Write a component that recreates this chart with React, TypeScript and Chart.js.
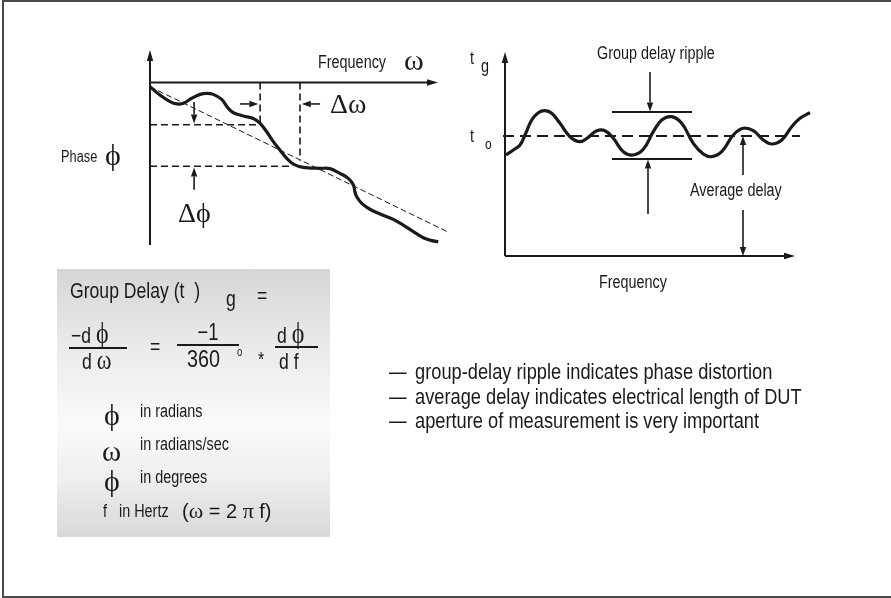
import React, { useEffect, useRef } from "react";
import { Chart, registerables } from "chart.js";
Chart.register(...registerables);

// ---------- Left plot: phase vs frequency ----------
const phaseFreq = [0, 0.33, 0.67, 0.89, 1.11, 1.39, 1.67, 1.89, 2.11, 2.39, 2.61, 2.78, 3.11, 3.44, 3.67, 3.89, 4.11, 4.33, 4.56, 4.78, 5.11, 5.67, 6.0, 6.33, 6.61, 6.78, 6.83, 6.89, 7.06, 7.33, 7.67, 8.11, 8.44, 8.78, 9.11, 9.39, 9.61];
const phaseVal = [-0.26, -0.77, -1.18, -1.32, -1.28, -0.97, -0.73, -0.67, -0.73, -1.04, -1.59, -1.86, -2.06, -2.21, -2.51, -3.03, -3.64, -4.15, -4.67, -5.02, -5.22, -5.28, -5.3, -5.59, -5.9, -6.31, -6.72, -7.03, -7.44, -7.8, -8.09, -8.42, -8.77, -9.18, -9.55, -9.73, -9.79];
const linearFreq = [0, 9.93];
const linearPhase = [-0.26, -9.2];
const phaseLevels = [-2.6, -5.15]; // Δφ bounds
const apertureFreq = [3.67, 5.0]; // Δω bounds
const apertureDrop = [-2.5, -4.8];
const phaseAxisRange = [-10, 2];
const freqAxisRange = [-1, 10];
const phaseAxisEnd = 9.6;

// ---------- Right plot: group delay vs frequency ----------
const delayFreq = [0.1, 0.83, 1.5, 2.0, 2.67, 3.33, 4.0, 4.67, 5.5, 6.5, 7.5, 8.33, 9.17, 10.0, 10.83, 11.83, 12.83, 13.83, 14.83, 15.67, 16.67, 17.67, 18.83, 19.83, 20.67, 21.67, 22.83, 23.83, 24.83, 25.83, 26.67, 27.67, 28.67, 29.5, 30.5];
const delayVal = [10.1, 10.6, 11.1, 12.1, 13.6, 14.33, 14.53, 14.27, 13.27, 11.93, 11.43, 11.87, 12.53, 12.53, 11.77, 10.43, 10.1, 10.67, 12.43, 13.6, 13.93, 13.27, 11.27, 10.2, 9.93, 10.43, 12.1, 12.77, 12.53, 11.6, 11.2, 11.6, 12.93, 13.77, 14.33];
const averageDelay = 12.0;
const averageSpan = [-0.2, 29.5];
const rippleLevels = [14.4, 9.7];
const rippleSpan = [10.7, 18.7];
const delayAxisRange = [0, 20.4];
const delayFreqRange = [-1, 31];
const delayFreqAxisEnd = 29;
const avgDelayFreq = 23.8;

// ---------- Text ----------
const bulletLines = [
  "group-delay ripple indicates phase distortion",
  "average delay indicates electrical length of DUT",
  "aperture of measurement is very important",
];
const PHI = "\u03D5";
const OMEGA = "\u03C9";
const PI = "\u03C0";
const unitLines = [
  { sym: PHI, text: "in radians" },
  { sym: OMEGA, text: "in radians/sec" },
  { sym: PHI, text: "in degrees" },
];

const SANS = '"Liberation Sans", Arimo, Arial, sans-serif';
const SERIF = '"Liberation Serif", "DejaVu Serif", serif';
const INK = "#1a1a1a";
const NARROW = 0.8;

type Arrow = [number, number, number, number];

function drawArrow(ctx: CanvasRenderingContext2D, x1: number, y1: number, x2: number, y2: number, w = 1.6, head = 9, half = 3.2) {
  const ang = Math.atan2(y2 - y1, x2 - x1);
  const bx = x2 - head * Math.cos(ang);
  const by = y2 - head * Math.sin(ang);
  ctx.save();
  ctx.strokeStyle = INK;
  ctx.fillStyle = INK;
  ctx.lineWidth = w;
  ctx.setLineDash([]);
  ctx.beginPath();
  ctx.moveTo(x1, y1);
  ctx.lineTo(bx, by);
  ctx.stroke();
  ctx.beginPath();
  ctx.moveTo(x2, y2);
  ctx.lineTo(bx - half * Math.sin(ang), by + half * Math.cos(ang));
  ctx.lineTo(bx + half * Math.sin(ang), by - half * Math.cos(ang));
  ctx.closePath();
  ctx.fill();
  ctx.restore();
}

function decorPlugin(id: string, axisX: [number, number, number], axisY: [number, number, number], arrows: Arrow[]) {
  return {
    id,
    afterDatasetsDraw(chart: any) {
      const { ctx, scales } = chart;
      const X = (v: number) => scales.x.getPixelForValue(v);
      const Y = (v: number) => scales.y.getPixelForValue(v);
      drawArrow(ctx, X(axisY[0]), Y(axisY[1]), X(axisY[0]), Y(axisY[2]), 2, 11, 3.2);
      drawArrow(ctx, X(axisX[1]), Y(axisX[0]), X(axisX[2]), Y(axisX[0]), 2, 11, 3.2);
      arrows.forEach((a) => drawArrow(ctx, X(a[0]), Y(a[1]), X(a[2]), Y(a[3])));
    },
  };
}

const pts = (xs: number[], ys: number[]) => xs.map((x, i) => ({ x, y: ys[i] }));

function lineDs(data: any[], width: number, dash: number[] = [], tension = 0) {
  return { data, showLine: true, borderColor: INK, borderWidth: width, borderDash: dash, pointRadius: 0, tension, clip: false as any };
}

function Label({ x, y, s, f = SANS, c = false, k, children, style }: any) {
  const sx = k !== undefined ? k : f === SANS ? NARROW : 1;
  return (
    <div
      style={{
        position: "absolute",
        left: x,
        top: y,
        fontSize: s,
        fontFamily: f,
        lineHeight: 1,
        whiteSpace: "pre",
        color: INK,
        transformOrigin: c ? "center center" : "left center",
        transform: (c ? "translate(-50%,-50%)" : "translate(0,-50%)") + ` scaleX(${sx})`,
        ...style,
      }}
    >
      {children}
    </div>
  );
}

const G = ({ children, s }: any) => <span style={{ fontFamily: SERIF, fontSize: s }}>{children}</span>;

export default function App() {
  const leftRef = useRef<HTMLCanvasElement>(null);
  const rightRef = useRef<HTMLCanvasElement>(null);

  useEffect(() => {
    document.body.style.margin = "0";
    const W = 891;
    const H = 598;
    const left = new Chart(leftRef.current!, {
      type: "scatter",
      data: {
        datasets: [
          lineDs(pts(phaseFreq, phaseVal), 3.2, [], 0.35),
          lineDs(pts(linearFreq, linearPhase), 1, [6, 3]),
          lineDs(pts([0, apertureFreq[0]], [phaseLevels[0], phaseLevels[0]]), 1.6, [7, 4]),
          lineDs(pts([0, (apertureFreq[0] + apertureFreq[1]) / 2 + 0.3], [phaseLevels[1], phaseLevels[1]]), 1.6, [7, 4]),
          lineDs(pts([apertureFreq[0], apertureFreq[0]], [0, apertureDrop[0]]), 1.6, [7, 4]),
          lineDs(pts([apertureFreq[1], apertureFreq[1]], [0, apertureDrop[1]]), 1.6, [7, 4]),
        ],
      },
      options: {
        responsive: false,
        animation: false,
        events: [],
        layout: { padding: { left: 120, right: W - 450, top: 50, bottom: H - 245 } },
        scales: {
          x: { type: "linear", display: false, min: freqAxisRange[0], max: freqAxisRange[1] },
          y: { type: "linear", display: false, min: phaseAxisRange[0], max: phaseAxisRange[1] },
        },
        plugins: { legend: { display: false }, tooltip: { enabled: false } },
      },
      plugins: [
        decorPlugin("leftDecor", [0, 0, phaseAxisEnd], [0, phaseAxisRange[0], phaseAxisRange[1]], [
          [1.47, -1.2, 1.47, phaseLevels[0] + 0.08],
          [1.47, -6.6, 1.47, phaseLevels[1] - 0.08],
          [3.0, -1.32, apertureFreq[0] - 0.06, -1.32],
          [5.67, -1.32, apertureFreq[1] + 0.06, -1.32],
        ]),
      ],
    });

    const right = new Chart(rightRef.current!, {
      type: "scatter",
      data: {
        datasets: [
          lineDs(pts(delayFreq, delayVal), 3.2, [], 0.4),
          lineDs(pts(averageSpan, [averageDelay, averageDelay]), 2, [11, 6]),
          lineDs(pts(rippleSpan, [rippleLevels[0], rippleLevels[0]]), 2),
          lineDs(pts(rippleSpan, [rippleLevels[1], rippleLevels[1]]), 2),
        ],
      },
      options: {
        responsive: false,
        animation: false,
        events: [],
        layout: { padding: { left: 495, right: W - 815, top: 52, bottom: H - 256 } },
        scales: {
          x: { type: "linear", display: false, min: delayFreqRange[0], max: delayFreqRange[1] },
          y: { type: "linear", display: false, min: delayAxisRange[0], max: delayAxisRange[1] },
        },
        plugins: { legend: { display: false }, tooltip: { enabled: false } },
      },
      plugins: [
        decorPlugin("rightDecor", [0, 0, delayFreqAxisEnd], [0, 0, delayAxisRange[1]], [
          [14.5, 18.4, 14.5, rippleLevels[0] + 0.05],
          [14.3, 4.2, 14.3, rippleLevels[1] - 0.05],
          [avgDelayFreq, 8.1, avgDelayFreq, averageDelay],
          [avgDelayFreq, 4.6, avgDelayFreq, 0],
        ]),
      ],
    });
    return () => {
      left.destroy();
      right.destroy();
    };
  }, []);

  const canvasStyle: React.CSSProperties = { position: "absolute", left: 0, top: 0, width: 891, height: 598 };

  return (
    <div style={{ position: "absolute", left: 0, top: 0, width: 891, height: 598, background: "#fff", overflow: "hidden" }}>
      {/* frame */}
      <div style={{ position: "absolute", left: 2, top: 0, width: 889, height: 2, background: "#4a4a4a" }} />
      <div style={{ position: "absolute", left: 2, top: 0, width: 2, height: 598, background: "#4a4a4a" }} />
      <div style={{ position: "absolute", left: 2, top: 596, width: 889, height: 2, background: "#4a4a4a" }} />

      {/* formula box */}
      <div
        style={{
          position: "absolute",
          left: 57,
          top: 269,
          width: 273,
          height: 268,
          background: "linear-gradient(to bottom, #d6d6d6 0%, #ebebeb 30%, #fafafa 58%, #efefef 78%, #d8d8d8 100%)",
        }}
      />

      <canvas ref={leftRef} width={891} height={598} style={canvasStyle} />
      <canvas ref={rightRef} width={891} height={598} style={canvasStyle} />

      {/* left plot labels */}
      <Label x={318} y={62} s={18}>Frequency</Label>
      <Label x={404} y={60} s={30} f={SERIF}>{OMEGA}</Label>
      <Label x={330} y={104} s={28} f={SERIF}>{"\u0394" + OMEGA}</Label>
      <Label x={178} y={213} s={28} f={SERIF}>{"\u0394" + PHI}</Label>
      <Label x={61} y={157} s={16}>Phase</Label>
      <Label x={105} y={155} s={30} f={SERIF}>{PHI}</Label>

      {/* right plot labels */}
      <Label x={597} y={53} s={18}>Group delay ripple</Label>
      <Label x={470} y={58} s={18}>t</Label>
      <Label x={481} y={66} s={18}>g</Label>
      <Label x={470} y={136} s={18}>t</Label>
      <Label x={485} y={143} s={15}>o</Label>
      <Label x={690} y={190} s={18}>Average delay</Label>
      <Label x={633} y={282} s={18} c>Frequency</Label>

      {/* formula */}
      <Label x={70} y={291} s={22}>{"Group Delay (t  )"}</Label>
      <Label x={226} y={299} s={22}>g</Label>
      <Label x={257} y={296} s={22}>=</Label>

      <Label x={71} y={333} s={22}>{"\u2212d "}<G s={30}>{PHI}</G></Label>
      <div style={{ position: "absolute", left: 69, top: 347, width: 58, height: 2, background: INK }} />
      <Label x={82} y={360} s={22}>{"d "}<G s={28}>{OMEGA}</G></Label>
      <Label x={150} y={347} s={22}>=</Label>
      <Label x={208} y={332} s={23} c>{"\u22121"}</Label>
      <div style={{ position: "absolute", left: 177, top: 344, width: 62, height: 2, background: INK }} />
      <Label x={187} y={359} s={23} k={0.86}>360</Label>
      <Label x={237} y={352} s={12}>o</Label>
      <Label x={258} y={359} s={20}>*</Label>
      <Label x={277} y={333} s={22}>{"d "}<G s={30}>{PHI}</G></Label>
      <div style={{ position: "absolute", left: 275, top: 346, width: 43, height: 2, background: INK }} />
      <Label x={279} y={362} s={22}>d f</Label>

      {unitLines.map((u, i) => (
        <React.Fragment key={i}>
          <Label x={i === 1 ? 102 : 104} y={(i === 1 ? 418 : 415) + i * 33} s={i === 1 ? 29 : 30} f={SERIF}>{u.sym}</Label>
          <Label x={140} y={411 + i * 33} s={18}>{u.text}</Label>
        </React.Fragment>
      ))}
      <Label x={103} y={511} s={18}>{"f   in Hertz"}</Label>
      <Label x={182} y={511} s={20} k={1}>
        {"("}
        <G s={22}>{OMEGA}</G>
        {" = 2 "}
        <G s={22}>{PI}</G>
        {" f)"}
      </Label>

      {/* bullets */}
      {bulletLines.map((t, i) => (
        <React.Fragment key={i}>
          <Label x={389} y={372 + i * 24.5} s={22}>{"\u2014"}</Label>
          <Label x={415} y={372 + i * 24.5} s={22} k={0.83}>{t}</Label>
        </React.Fragment>
      ))}
    </div>
  );
}
